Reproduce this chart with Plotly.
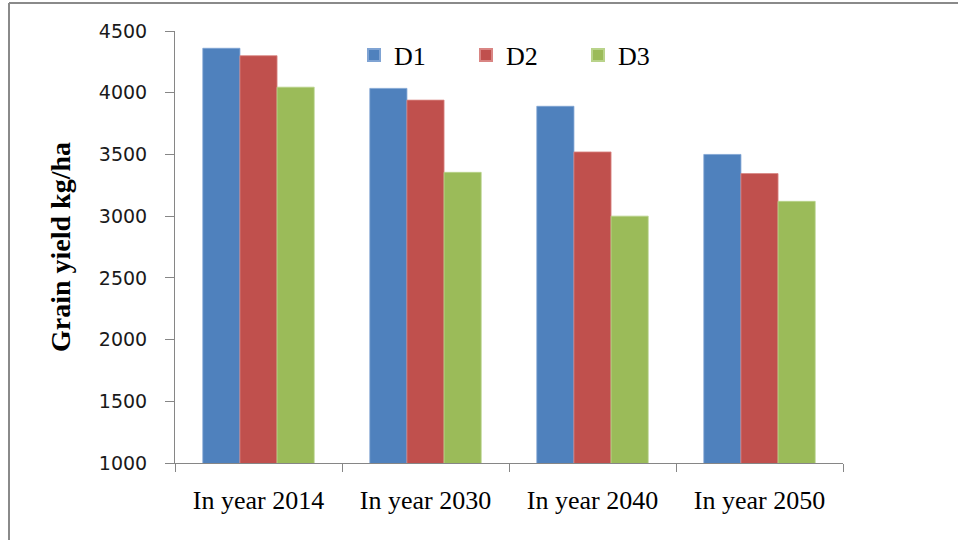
import plotly.graph_objects as go

categories = ["In year 2014", "In year 2030", "In year 2040", "In year 2050"]
series_names = ["D1", "D2", "D3"]
d1 = [4360, 4035, 3890, 3500]
d2 = [4300, 3940, 3520, 3345]
d3 = [4045, 3355, 3000, 3120]
colors = ["#4F81BD", "#C0504D", "#9BBB59"]
edge_colors = ["#7FA3D3", "#D98583", "#B9D38A"]
y_ticks = [1000, 1500, 2000, 2500, 3000, 3500, 4000, 4500]

W, H = 958, 540
L, R, T, B = 175, 115, 31, 77
pw, ph = W - L - R, H - T - B

fig = go.Figure()
for name, vals, c, ec in zip(series_names, [d1, d2, d3], colors, edge_colors):
    fig.add_trace(go.Bar(
        x=categories, y=vals, name=name,
        marker=dict(color=c, line=dict(color=ec, width=0.8)),
    ))

def px_x(p):
    return (p - L) / pw

def px_y(p):
    return (H - B - p) / ph

fig.update_layout(
    width=W, height=H,
    margin=dict(l=L, r=R, t=T, b=B, autoexpand=False),
    paper_bgcolor="white", plot_bgcolor="white",
    barmode="group", bargap=0.333, bargroupgap=0,
    showlegend=True,
    legend=dict(
        orientation="h", x=px_x(354), y=px_y(55), xanchor="left", yanchor="middle",
        font=dict(family="Liberation Serif", size=26, color="black"),
        bgcolor="rgba(0,0,0,0)", entrywidth=67, entrywidthmode="pixels",
        itemsizing="constant",
    ),
    xaxis=dict(
        showline=True, linecolor="#868686", linewidth=1,
        ticks="outside", ticklen=8, tickcolor="#868686", tickson="boundaries",
        ticklabelstandoff=14,
        tickfont=dict(family="Liberation Serif", size=26, color="black"),
        showgrid=False, zeroline=False,
    ),
    yaxis=dict(
        range=[1000, 4500], tickvals=y_ticks,
        showline=True, linecolor="#868686", linewidth=1,
        ticks="outside", ticklen=9, tickcolor="#868686",
        ticklabelstandoff=14,
        tickfont=dict(family="DejaVu Sans", size=19, color="#1a1a1a"),
        showgrid=False, zeroline=False,
        title=dict(text="<b>Grain yield kg/ha</b>", standoff=20,
                   font=dict(family="Liberation Serif", size=28, color="black")),
    ),
    shapes=[
        dict(type="line", xref="paper", yref="paper",
             x0=px_x(9), x1=px_x(W), y0=px_y(3), y1=px_y(3),
             line=dict(color="#8a8a8a", width=2)),
        dict(type="line", xref="paper", yref="paper",
             x0=px_x(9), x1=px_x(9), y0=px_y(3), y1=px_y(H),
             line=dict(color="#8a8a8a", width=2)),
    ],
)

fig.write_html("out.html")
